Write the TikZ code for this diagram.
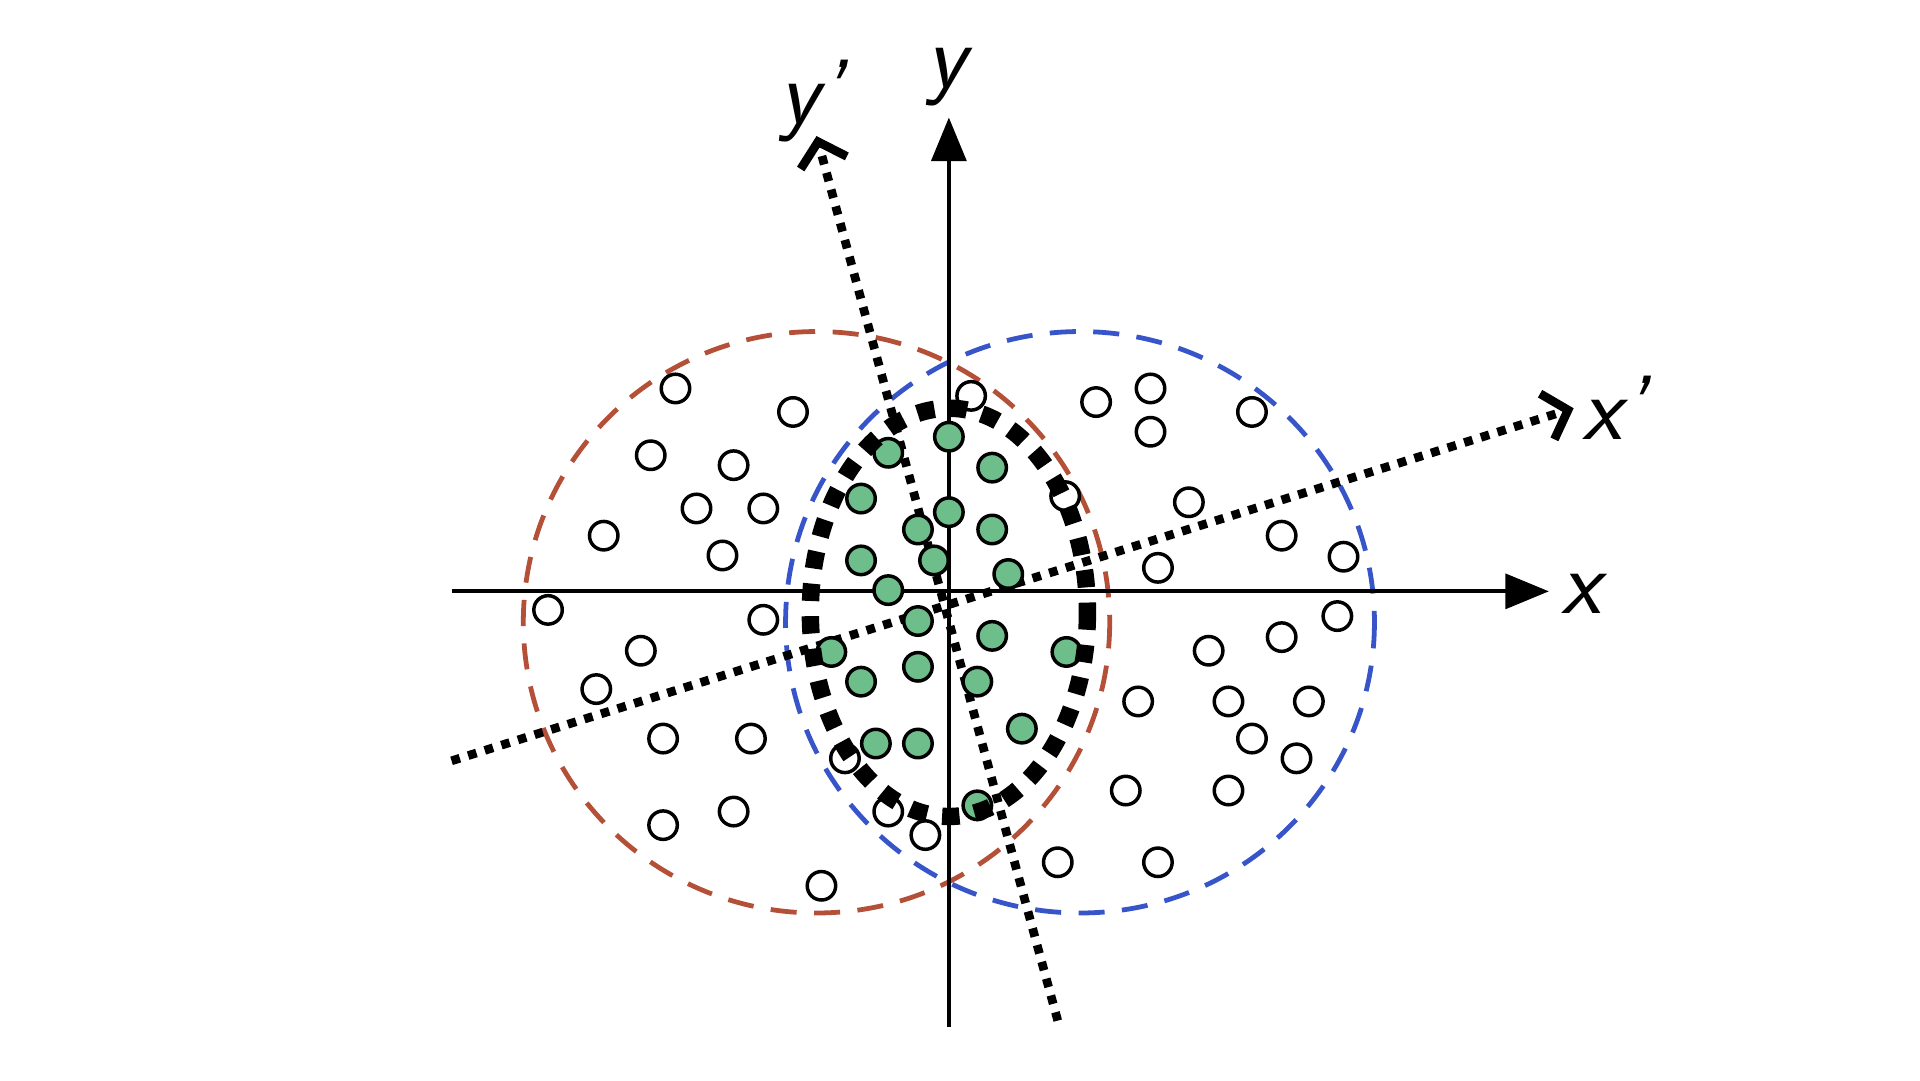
\documentclass[tikz,border=0pt]{standalone}
\usepackage{tikz}
\usetikzlibrary{arrows.meta}
\usetikzlibrary{positioning}
\definecolor{dotgreen}{RGB}{110,190,140}
\definecolor{ringred}{RGB}{180,80,55}
\definecolor{ringblue}{RGB}{55,85,200}
\tikzset{
  pt/.style={draw, circle, thick, minimum size=0.23cm, inner sep=0pt, fill=white},
  gpt/.style={pt, fill=dotgreen},
  lbl/.style={font=\sffamily\itshape\fontsize{21}{21}\selectfont}
}
\begin{document}
\begin{tikzpicture}[x=0.01cm,y=-0.01cm,thick]
\useasboundingbox (0,0) rectangle (1552,873);

% Regions
\draw[ringred, line width=1.1pt, dash pattern=on 6pt off 4pt] (660,503) ellipse [x radius=237, y radius=235];
\draw[ringblue, line width=1.1pt, dash pattern=on 6pt off 4pt] (873,503) ellipse [x radius=238, y radius=235];

% Axes
\coordinate (xa) at (365,478);
\coordinate (xb) at (1252,478);
\coordinate (ya) at (767,830);
\coordinate (yb) at (767,95);
\coordinate (xpa) at (365,615);
\coordinate (xpb) at (1272,330);
\coordinate (ypa) at (855,825);
\coordinate (ypb) at (660,110);
\draw[-{Triangle[length=10pt,width=8pt]}, line width=0.9pt] (xa) -- (xb);
\draw[-{Triangle[length=10pt,width=8pt]}, line width=0.9pt] (ya) -- (yb);
\draw[-{Straight Barb[length=5pt,width=11pt]}, dotted, line width=2pt] (xpa) -- (xpb);
\draw[-{Straight Barb[length=5pt,width=11pt]}, dotted, line width=2pt] (ypa) -- (ypb);
\node[lbl] (lx) at (1278,480) {x};
\node[lbl] (ly) at (765,62) {y};
\node[lbl] (lxp) at (1305,330) {x\textquoteright};
\node[lbl] (lyp) at (656,82) {y\textquoteright};

% Points
\foreach \p/\q [count=\i] in {546/314,641/333,526/368,593/376,563/411,617/411,488/433,584/449,443/493,617/501,518/526,482/557,536/597,607/597,536/667,593/656,664/716,683/613,718/656,748/675,785/320,886/325,930/314,930/349,1012/333,861/401,961/406,1036/433,1086/450,936/459,1081/498,1036/515,977/526,920/567,993/567,1058/567,1012/597,1048/613,910/639,993/639,855/697,936/697}
  \node[pt] (w\i) at (\p,\q) {};
\foreach \p/\q [count=\i] in {767/353,718/366,802/378,696/403,767/414,742/428,802/428,696/453,755/453,815/464,718/477,742/502,802/514,672/527,862/527,696/551,742/539,790/551,826/589,708/601,742/601,790/651}
  \node[gpt] (g\i) at (\p,\q) {};

% Cluster
\draw[line width=4pt, dash pattern=on 4pt off 3.5pt] (767,495) ellipse [x radius=112, y radius=165];

\end{tikzpicture}
\end{document}
